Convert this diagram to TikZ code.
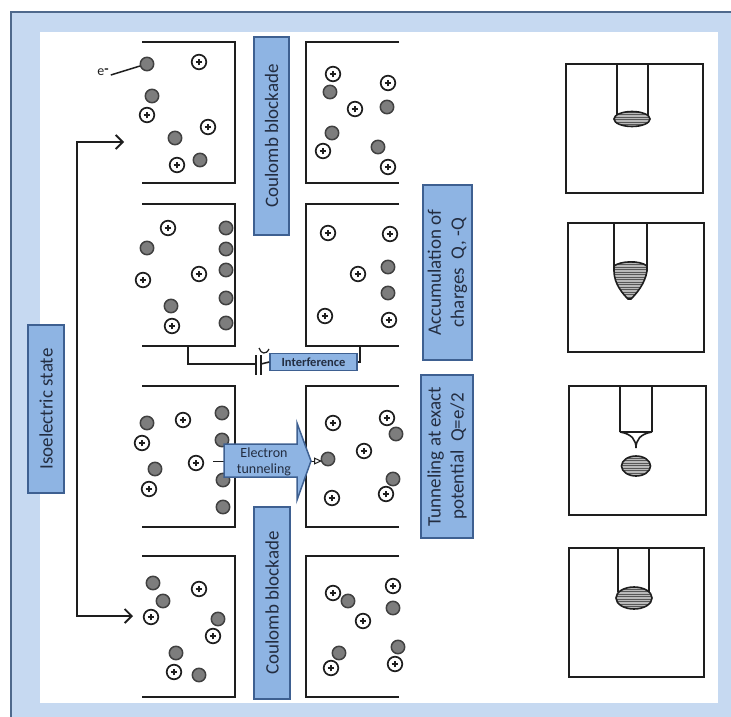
\documentclass[tikz,border=0pt]{standalone}
\usepackage{fontspec}
\setmainfont{Carlito}
\usetikzlibrary{arrows.meta}

\definecolor{framefill}{RGB}{198,217,241}
\definecolor{frameedge}{RGB}{79,105,140}
\definecolor{boxfill}{RGB}{142,180,227}
\definecolor{boxedge}{RGB}{62,96,145}
\definecolor{boxtext}{RGB}{35,45,65}
\definecolor{ink}{RGB}{30,30,30}
\definecolor{electronfill}{RGB}{125,125,125}

\tikzset{
  bluebox/.style={draw=boxedge, fill=boxfill, line width=1.5pt, text=boxtext,
    font=\fontsize{19}{23}\selectfont, align=center, inner sep=0pt, rotate=90},
  electrode/.style={draw=ink, line width=2pt},
  feed/.style={draw=ink, line width=1.6pt},
  tipline/.style={draw=ink, line width=1.6pt},
  electron/.pic={\draw[fill=electronfill, draw=ink!85, line width=1.5pt] (0,0) circle[radius=6.7pt];},
  cation/.pic={\draw[fill=white, draw=ink, line width=1.7pt] (0,0) circle[radius=7.3pt];
               \draw[ink, line width=1.2pt] (-3.3pt,0) -- (3.3pt,0) (0,-3.3pt) -- (0,3.3pt);},
  feedarrow/.style={draw=ink, line width=1.9pt, -{Straight Barb[length=7pt,width=14pt,line width=1.9pt]}},
}

\begin{document}
\begin{tikzpicture}[x=1pt,y=-1pt]
\useasboundingbox (0,0) rectangle (731,717);
\fill[white] (0,0) rectangle (731,717);

% frame and white panel
\draw[fill=framefill, draw=frameedge, line width=2pt] (11,12) rectangle (760,740);
\fill[white] (40,32) rectangle (718,703);

% electrodes: four rows, open on the outer sides
\foreach \t/\b in {42/183, 204/346, 386/527, 556/697}{
  \draw[electrode] (142,\t) -- (235,\t) -- (235,\b) -- (142,\b);
  \draw[electrode] (399,\t) -- (306,\t) -- (306,\b) -- (399,\b);
}

% row 1
\foreach \x/\y in {147/64, 152/96, 175/138, 200/160}
  \pic at (\x,\y) {electron};
\foreach \x/\y in {199/62, 147/115, 208/127, 177/165}
  \pic at (\x,\y) {cation};
\foreach \x/\y in {330/92, 387/107, 332/133, 378/147}
  \pic at (\x,\y) {electron};
\foreach \x/\y in {333/74, 388/83, 355/109, 323/151, 388/167}
  \pic at (\x,\y) {cation};

\node[font=\fontsize{14}{16}\selectfont, text=ink, inner sep=1pt] (elabel) at (103,72) {e\raisebox{2.5pt}{\bfseries -}};
\coordinate (firstelectron) at (140,66);
\draw[ink, line width=1.5pt] (elabel.east) ++(1,3) -- (firstelectron);

% row 2
\foreach \x/\y in {147/248, 171/306, 226/228, 226/249, 226/270, 226/298, 226/323}
  \pic at (\x,\y) {electron};
\foreach \x/\y in {168/228, 143/280, 199/274, 172/326}
  \pic at (\x,\y) {cation};
\foreach \x/\y in {388/267, 388/293}
  \pic at (\x,\y) {electron};
\foreach \x/\y in {328/233, 390/234, 358/274, 325/316, 389/320}
  \pic at (\x,\y) {cation};

% row 3
\foreach \x/\y in {147/423, 222/413, 222/440, 155/469, 223/480, 223/507}
  \pic at (\x,\y) {electron};
\foreach \x/\y in {183/420, 142/443, 196/463, 149/489}
  \pic at (\x,\y) {cation};
\foreach \x/\y in {396/434, 328/459, 393/479}
  \pic at (\x,\y) {electron};
\foreach \x/\y in {333/423, 387/418, 364/451, 386/494, 332/498}
  \pic at (\x,\y) {cation};

% row 4
\foreach \x/\y in {153/583, 163/601, 218/619, 176/653, 199/675}
  \pic at (\x,\y) {electron};
\foreach \x/\y in {199/589, 151/617, 213/636, 174/672}
  \pic at (\x,\y) {cation};
\foreach \x/\y in {348/601, 393/608, 339/653, 398/647}
  \pic at (\x,\y) {electron};
\foreach \x/\y in {333/593, 393/586, 363/621, 331/668, 395/664}
  \pic at (\x,\y) {cation};

% labels
\node[bluebox, minimum width=198pt, minimum height=35pt] (cbtop) at (271.5,136) {Coulomb blockade};
\node[bluebox, minimum width=192pt, minimum height=36pt] (cbbottom) at (272,603) {Coulomb blockade};
\node[bluebox, minimum width=175pt, minimum height=49pt] (accum) at (447.5,272.5) {Accumulation of\\charges\ \ Q, -Q};
\node[bluebox, minimum width=163pt, minimum height=52pt] (tunnel) at (447,456.5) {Tunneling at exact\\potential\ \ Q=e/2};
\node[bluebox, minimum width=168pt, minimum height=36pt] (iso) at (46,409) {Isoelectric state};

% arrows from the isoelectric state
\coordinate (isofork) at (77,380);
\coordinate (toprow) at (124,142);
\coordinate (bottomrow) at (133,616);
\draw[feedarrow] (isofork) |- (toprow);
\draw[feedarrow] (isofork) |- (bottomrow);

% interference link with capacitor
\node[draw=boxedge, fill=boxfill, line width=1.5pt, text=boxtext, inner sep=0pt,
      minimum width=87pt, minimum height=17pt,
      font=\bfseries\fontsize{12.5}{14}\selectfont] (interf) at (313.5,362) {Interference};
\coordinate (capleft) at (256,364);
\coordinate (capright) at (261,364);
\draw[feed] (188,346) -- (188,364) -- (capleft);
\draw[feed] (256,355) -- (256,375);
\draw[feed] (261,355) -- (261,375);
\draw[feed] (capright) -- (interf.west);
\draw[feed] (interf.east) -- (360,362) -- (360,346);
\draw[ink, line width=1.2pt] (259,348) .. controls (261,354) and (266,355) .. (269,349);

% electron tunneling arrow
\coordinate (tunstart) at (213,461);
\coordinate (tunend) at (322,461);
\draw[ink, line width=1pt, -{Triangle[open, length=8pt, width=7pt]}] (tunstart) -- (tunend);
\draw[draw=boxedge, fill=boxfill, line width=1.5pt]
  (224,444) -- (297,444) -- (297,423) -- (311,461) -- (297,500) -- (297,477) -- (224,477) -- cycle;
\node[text=boxtext, align=center, font=\fontsize{14}{15.5}\selectfont, inner sep=0pt] (tunlabel) at (264,462) {Electron\\tunneling};

% tip figures
% A
\draw[tipline] (566,64) rectangle (703,193);
\draw[tipline] (617,64) -- (617,117) (648,64) -- (648,117);
\begin{scope}
  \clip (632,119) ellipse [x radius=18pt, y radius=7.5pt];
  \fill[gray!55] (610,108) rectangle (655,130);
  \foreach \h in {112,114.5,...,128} \draw[ink!75, line width=0.7pt] (610,\h) -- (655,\h);
\end{scope}
\draw[tipline] (632,119) ellipse [x radius=18pt, y radius=7.5pt];

% B
\draw[tipline] (568,223) rectangle (704,352);
\draw[tipline] (614,223) -- (614,266) (647,223) -- (647,266);
\begin{scope}
  \clip (614,266) .. controls (620,261) and (640,260) .. (647,266) -- (647,271)
        .. controls (645,284) and (636,294) .. (631,299) -- (628,299)
        .. controls (623,294) and (614,284) .. (614,271) -- cycle;
  \fill[gray!55] (610,255) rectangle (652,303);
  \foreach \h in {262,264.5,...,300} \draw[ink!75, line width=0.7pt] (610,\h) -- (652,\h);
\end{scope}
\draw[tipline] (614,266) .. controls (620,261) and (640,260) .. (647,266) -- (647,271)
        .. controls (645,284) and (636,294) .. (631,299) -- (628,299)
        .. controls (623,294) and (614,284) .. (614,271) -- cycle;

% C
\draw[tipline] (569,386) rectangle (706,515);
\draw[tipline] (620,386) -- (620,432) (652,386) -- (652,432) (620,432) -- (652,432);
\draw[tipline] (620,432) .. controls (632,434) and (636,440) .. (636,448)
               .. controls (636,440) and (640,434) .. (652,432);
\begin{scope}
  \clip (636,466) ellipse [x radius=14.5pt, y radius=10pt];
  \fill[gray!55] (620,454) rectangle (652,478);
  \foreach \h in {458,460.5,...,476} \draw[ink!75, line width=0.7pt] (620,\h) -- (652,\h);
\end{scope}
\draw[tipline] (636,466) ellipse [x radius=14.5pt, y radius=10pt];

% D
\draw[tipline] (569,548) rectangle (704,677);
\draw[tipline] (618,548) -- (618,592) (649,548) -- (649,592);
\begin{scope}
  \clip (634,598) ellipse [x radius=18pt, y radius=11pt];
  \fill[gray!55] (614,585) rectangle (654,611);
  \foreach \h in {589,591.5,...,609} \draw[ink!75, line width=0.7pt] (614,\h) -- (654,\h);
\end{scope}
\draw[tipline] (634,598) ellipse [x radius=18pt, y radius=11pt];

\end{tikzpicture}
\end{document}
